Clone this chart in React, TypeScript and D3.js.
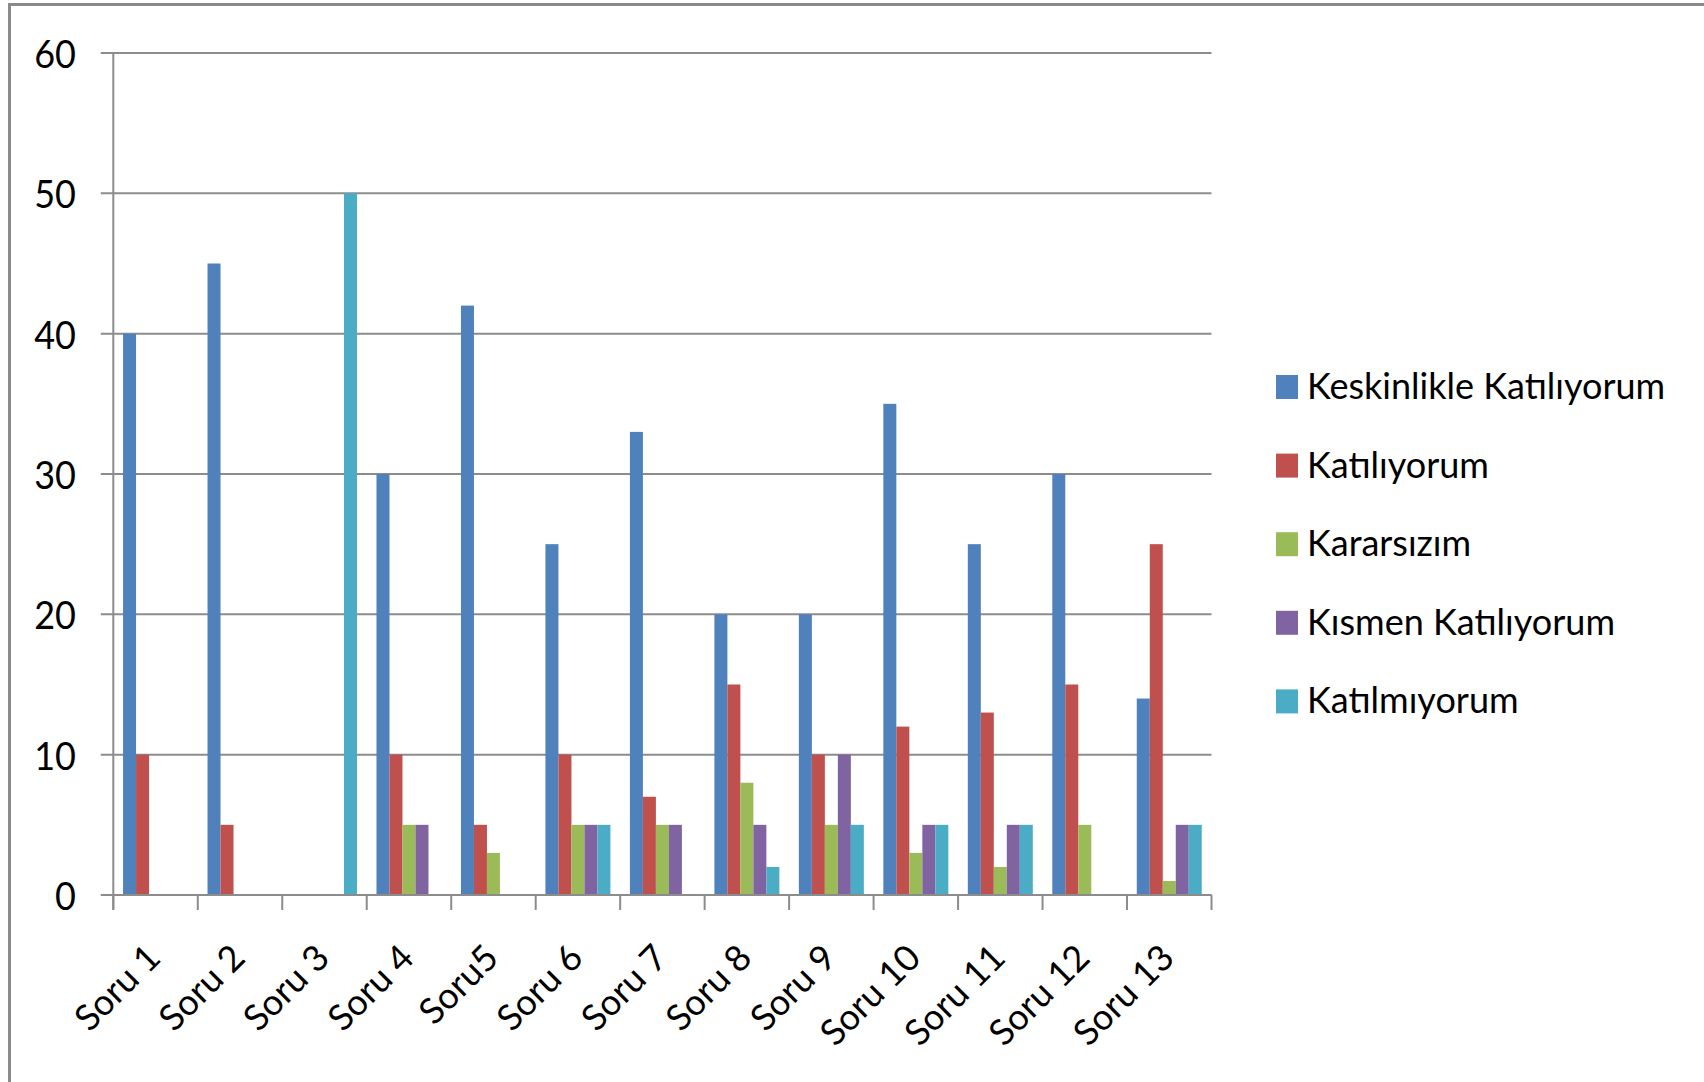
import React, { useEffect } from 'react';
import * as d3 from 'd3';

// categories and series
const questions = [
  'Soru 1', 'Soru 2', 'Soru 3', 'Soru 4', 'Soru5', 'Soru 6', 'Soru 7',
  'Soru 8', 'Soru 9', 'Soru 10', 'Soru 11', 'Soru 12', 'Soru 13',
];
const seriesNames = [
  'Keskinlikle Katılıyorum',
  'Katılıyorum',
  'Kararsızım',
  'Kısmen Katılıyorum',
  'Katılmıyorum',
];
const keskinlikle = [40, 45, 0, 30, 42, 25, 33, 20, 20, 35, 25, 30, 14];
const katiliyorum = [10, 5, 0, 10, 5, 10, 7, 15, 10, 12, 13, 15, 25];
const kararsizim = [0, 0, 0, 5, 3, 5, 5, 8, 5, 3, 2, 5, 1];
const kismen = [0, 0, 0, 5, 0, 5, 5, 5, 10, 5, 5, 0, 5];
const katilmiyorum = [0, 0, 50, 0, 0, 5, 0, 2, 5, 5, 5, 0, 5];
const yTicks = [0, 10, 20, 30, 40, 50, 60];

const colors = ['#4F81BD', '#C0504D', '#9BBB59', '#8064A2', '#4BACC6'];
const values = [keskinlikle, katiliyorum, kararsizim, kismen, katilmiyorum];

const W = 1704;
const H = 1082;
const left = 113.3;
const right = 1211.5;
const top = 53;
const bottom = 895;
const font = 'Lato, "Open Sans", sans-serif';
const gridColor = '#8c8c8c';

const App: React.FC = () => {
  useEffect(() => {
    document.body.style.margin = '0';
  }, []);

  // Excel-like clustered bars: gap width 150%
  const x0 = d3.scaleBand<string>()
    .domain(questions)
    .range([left, right])
    .paddingInner(0.2308)
    .paddingOuter(0.1154);
  const x1 = d3.scaleBand<string>()
    .domain(seriesNames)
    .range([0, x0.bandwidth()]);
  const y = d3.scaleLinear().domain([0, 60]).range([bottom, top]);

  const step = x0.step();
  const boundaries = d3.range(questions.length + 1).map(i => left + i * step);

  return (
    <svg
      width={W}
      height={H}
      viewBox={`0 0 ${W} ${H}`}
      style={{ position: 'absolute', left: 0, top: 0, background: '#fff' }}
    >
      {/* outer frame, cut off on the right and bottom */}
      <path d={`M9.5,${H + 5} V4.5 H${W + 5}`} fill="none" stroke="#8a8a8a" strokeWidth={3} />

      {/* gridlines + y ticks */}
      {yTicks.map(t => (
        <g key={t}>
          <line x1={left - 12.5} x2={right} y1={y(t)} y2={y(t)} stroke={gridColor} strokeWidth={2} />
          <text
            transform={`translate(76,${y(t)}) scale(1,1.08)`}
            textAnchor="end"
            dominantBaseline="central"
            fontFamily={font}
            fontSize={36}
            fill="#000"
          >
            {t}
          </text>
        </g>
      ))}

      {/* y axis */}
      <line x1={left} x2={left} y1={top} y2={bottom + 15} stroke={gridColor} strokeWidth={2} />

      {/* bars */}
      {questions.map((q, i) => (
        <g key={q} transform={`translate(${x0(q)},0)`}>
          {seriesNames.map((s, j) => {
            const v = values[j][i];
            if (!v) return null;
            return (
              <rect
                key={s}
                x={x1(s)}
                y={y(v)}
                width={x1.bandwidth()}
                height={y(0) - y(v)}
                fill={colors[j]}
              />
            );
          })}
        </g>
      ))}

      {/* x axis */}
      <line x1={left} x2={right} y1={bottom} y2={bottom} stroke={gridColor} strokeWidth={2} />
      {boundaries.map((bx, i) => (
        <line key={i} x1={bx} x2={bx} y1={bottom} y2={bottom + 15} stroke={gridColor} strokeWidth={2} />
      ))}
      {questions.map(q => {
        const cx = (x0(q) ?? 0) + x0.bandwidth() / 2 + 7;
        return (
          <text
            key={q}
            transform={`translate(${cx},960) rotate(-45)`}
            textAnchor="end"
            fontFamily={font}
            fontSize={36}
            fill="#000"
          >
            {q}
          </text>
        );
      })}

      {/* legend */}
      {seriesNames.map((s, j) => {
        const cy = 387 + j * 78.6;
        return (
          <g key={s}>
            <rect x={1276} y={cy - 12} width={22} height={24} fill={colors[j]} />
            <text
              x={1307}
              y={cy - 2}
              dominantBaseline="central"
              fontFamily={font}
              fontSize={36}
              fill="#000"
            >
              {s}
            </text>
          </g>
        );
      })}
    </svg>
  );
};

export default App;
